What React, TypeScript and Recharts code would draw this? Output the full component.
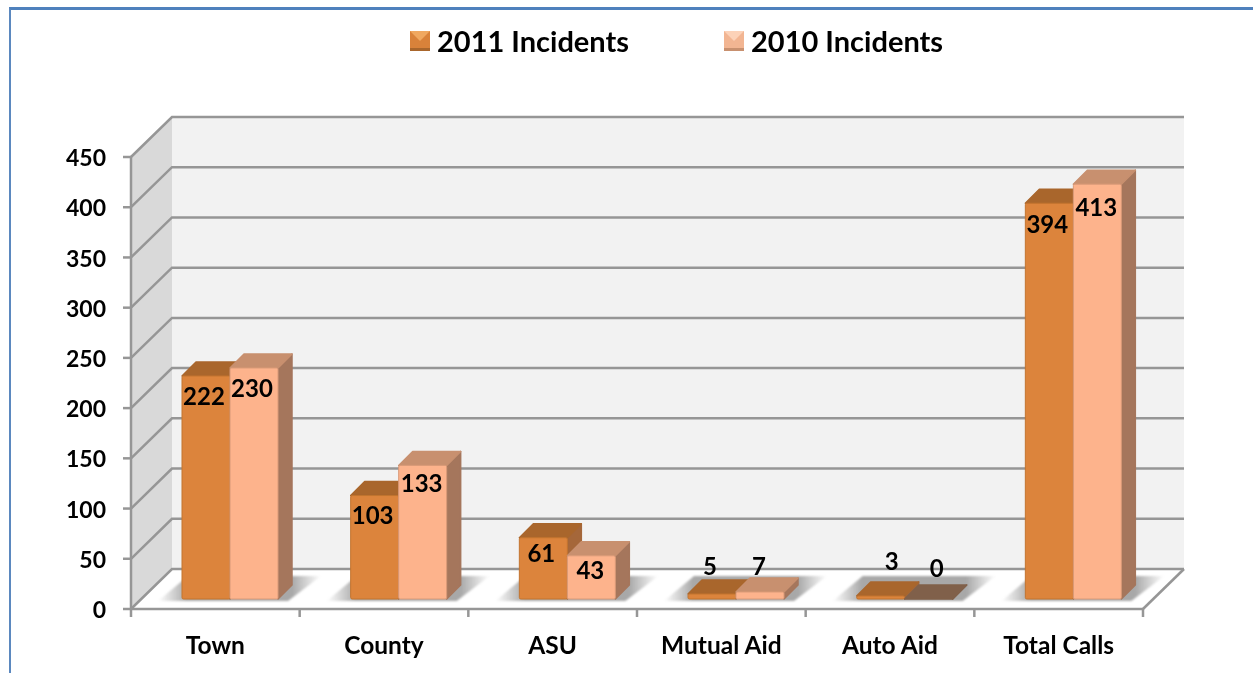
import {
  Bar,
  CartesianGrid,
  ComposedChart,
  LabelList,
  Legend,
  ReferenceArea,
  XAxis,
  YAxis,
} from "recharts";

const categories = ["Town", "County", "ASU", "Mutual Aid", "Auto Aid", "Total Calls"];
const incidents2011 = [222, 103, 61, 5, 3, 394];
const incidents2010 = [230, 133, 43, 7, 0, 413];
const yTicks = [0, 50, 100, 150, 200, 250, 300, 350, 400, 450];

// hand placed labels in the original, offset from the top of each bar
const labelDy2011 = [19, 19, 15, -28, -35, 20];
const labelDy2010 = [20, 17, 14, -26, -32, 22];
const labelDx2011 = [-2, -2, -2, -2, 11, -2];
const labelDx2010 = [-2, -1, -1, -1, 8, -1];

const data = categories.map((name, i) => ({
  name,
  y2011: incidents2011[i],
  y2010: incidents2010[i],
}));

const FONT = "Lato, Carlito, sans-serif";
const GRID = "#969696";
// depth of the fake 3d room and of each box
const WALL_DX = 41;
const WALL_DY = 40;
const BOX_D = 14;
const BAR_DX = 15;
const BAR_DY = 10;

const ORANGE = { front: "#dc843c", edge: "#c2742f", top: "#a9662c", side: "#a5673a" };
const PEACH = { front: "#fdb38c", edge: "#d99a78", top: "#c8906f", side: "#a5765c" };

function Room({ x, y, width, height }: any) {
  const b = y + height;
  const r = x + width;
  return (
    <g>
      <polygon
        points={`${x},${y} ${x + WALL_DX},${y - WALL_DY} ${x + WALL_DX},${b - WALL_DY} ${x},${b}`}
        fill="#d9d9d9"
      />
      <rect x={x + WALL_DX} y={y - WALL_DY} width={width} height={height} fill="#f2f2f2" />
      <polygon
        points={`${x},${b} ${x + WALL_DX},${b - WALL_DY} ${r + WALL_DX},${b - WALL_DY} ${r},${b}`}
        fill="#ffffff"
      />
      <line x1={x} y1={b} x2={r} y2={b} stroke={GRID} strokeWidth={2.5} />
      <line x1={r} y1={b} x2={r + WALL_DX} y2={b - WALL_DY} stroke={GRID} strokeWidth={2.5} />
    </g>
  );
}

function GridLine({ x1, y1, x2, y2 }: any) {
  return (
    <polyline
      points={`${x1},${y1} ${x1 + WALL_DX},${y1 - WALL_DY} ${x2 + WALL_DX},${y2 - WALL_DY}`}
      fill="none"
      stroke={GRID}
      strokeWidth={2.5}
    />
  );
}

function Box({ x, y, width, height, colors, flat }: any) {
  const l = x + BAR_DX;
  const t = y - BAR_DY;
  const r = l + width;
  const b = t + height;
  const sideFill = flat ? "#80604a" : colors.side;
  const topFill = flat ? "#80604a" : colors.top;
  return (
    <g strokeLinejoin="round">
      <polygon
        points={`${r},${t} ${r + BOX_D},${t - BOX_D} ${r + BOX_D},${b - BOX_D} ${r},${b}`}
        fill={sideFill}
        stroke={sideFill}
        strokeWidth={1.5}
      />
      <polygon
        points={`${l},${t} ${l + BOX_D},${t - BOX_D} ${r + BOX_D},${t - BOX_D} ${r},${t}`}
        fill={topFill}
        stroke={topFill}
        strokeWidth={1.5}
      />
      {height > 0 && (
        <rect x={l} y={t} width={width} height={height} rx={1.5} fill={colors.front} stroke={colors.edge} strokeWidth={1} />
      )}
    </g>
  );
}

function ShadowedBox(props: any) {
  const l = props.x + BAR_DX;
  const right = l + props.width * 2;
  const base = props.y + props.height;
  return (
    <g>
      <polygon
        points={`${l - 24},${base - 8} ${l + 6},${base - 33} ${right + 43},${base - 33} ${right + 10},${base - 8}`}
        fill="url(#floorShadow)"
        filter="url(#softEdge)"
      />
      <Box {...props} colors={ORANGE} />
    </g>
  );
}

function PeachBox(props: any) {
  return <Box {...props} colors={PEACH} flat={props.value === 0 || props.height === 0} />;
}

function barLabel(dx: number[], dy: number[]) {
  return function BarLabel({ x, y, width, value, index }: any) {
    return (
      <text
        x={x + BAR_DX + width / 2 + dx[index]}
        y={y - BAR_DY + dy[index]}
        textAnchor="middle"
        dominantBaseline="central"
        fontFamily={FONT}
        fontWeight={700}
        fontSize={24}
        fill="#000"
      >
        {value}
      </text>
    );
  };
}

function CategoryTick({ x, y, payload, index }: any) {
  const half = payload.offset;
  return (
    <g>
      <line x1={x - half} y1={y - 8} x2={x - half} y2={y} stroke={GRID} strokeWidth={2.5} />
      {index === categories.length - 1 && (
        <line x1={x + half} y1={y - 8} x2={x + half} y2={y} stroke={GRID} strokeWidth={2.5} />
      )}
      <text
        x={x}
        y={y + 27}
        textAnchor="middle"
        dominantBaseline="central"
        fontFamily={FONT}
        fontWeight={700}
        fontSize={24.5}
        fill="#000"
      >
        {payload.value}
      </text>
    </g>
  );
}

function LegendSwatch({ main, light, dark }: any) {
  return (
    <svg width={20} height={20} style={{ marginRight: 7 }}>
      <rect width={20} height={20} fill={main} />
      <polygon points="0,0 20,0 10,10" fill={light} />
      <rect y={17} width={20} height={3} fill={dark} />
    </svg>
  );
}

function LegendRow() {
  const items = [
    { label: "2011 Incidents", main: "#d9823a", light: "#f0a860", dark: "#a9662c" },
    { label: "2010 Incidents", main: "#f2b592", light: "#fcd2b8", dark: "#c8906f" },
  ];
  return (
    <div style={{ display: "flex", alignItems: "center", gap: 95, fontFamily: FONT, fontWeight: 700, fontSize: 29 }}>
      {items.map((it) => (
        <span key={it.label} style={{ display: "flex", alignItems: "center", color: "#000" }}>
          <LegendSwatch main={it.main} light={it.light} dark={it.dark} />
          {it.label}
        </span>
      ))}
    </div>
  );
}

export default function App() {
  return (
    <div
      style={{
        position: "absolute",
        left: 0,
        top: 0,
        width: 1253,
        height: 673,
        background: "#fff",
        overflow: "hidden",
        filter: "blur(0.5px)",
      }}
    >
      <div
        style={{
          position: "absolute",
          left: 9,
          top: 7,
          width: 1300,
          height: 700,
          borderLeft: "2px solid #5b88bf",
          borderTop: "3px solid #4f81bd",
          boxSizing: "border-box",
        }}
      />
      <ComposedChart
        width={1253}
        height={673}
        data={data}
        barGap={0}
        barSize={48}
        margin={{ top: 157, right: 110, left: 71, bottom: 24 }}
        style={{ position: "absolute", left: 0, top: 0 }}
      >
        <defs>
          <linearGradient id="floorShadow" x1="0" y1="0" x2="1" y2="0">
            <stop offset="0%" stopColor="#a8a8a8" stopOpacity={0} />
            <stop offset="18%" stopColor="#a8a8a8" />
            <stop offset="82%" stopColor="#a8a8a8" />
            <stop offset="100%" stopColor="#a8a8a8" stopOpacity={0} />
          </linearGradient>
          <filter id="softEdge" x="-10%" y="-30%" width="120%" height="160%">
            <feGaussianBlur stdDeviation="1" />
          </filter>
        </defs>
        <ReferenceArea y1={0} y2={450} ifOverflow="visible" shape={Room} zIndex={-200} />
        <CartesianGrid vertical={false} horizontal={GridLine} syncWithTicks />
        <XAxis
          dataKey="name"
          height={40}
          interval={0}
          tickLine={false}
          axisLine={false}
          tick={CategoryTick}
        />
        <YAxis
          width={60}
          domain={[0, 450]}
          ticks={yTicks}
          interval={0}
          tickSize={8}
          tickMargin={17}
          stroke={GRID}
          strokeWidth={2.5}
          dy={1}
          tick={{ fontFamily: FONT, fontWeight: 700, fontSize: 23, fill: "#000" }}
        />
        <Legend
          layout="horizontal"
          verticalAlign="middle"
          align="center"
          content={LegendRow}
          wrapperStyle={{ left: 410, top: 23, width: "auto" }}
        />
        <Bar dataKey="y2011" name="2011 Incidents" shape={ShadowedBox} isAnimationActive={false}>
          <LabelList dataKey="y2011" content={barLabel(labelDx2011, labelDy2011)} />
        </Bar>
        <Bar dataKey="y2010" name="2010 Incidents" shape={PeachBox} isAnimationActive={false}>
          <LabelList dataKey="y2010" content={barLabel(labelDx2010, labelDy2010)} />
        </Bar>
      </ComposedChart>
    </div>
  );
}
